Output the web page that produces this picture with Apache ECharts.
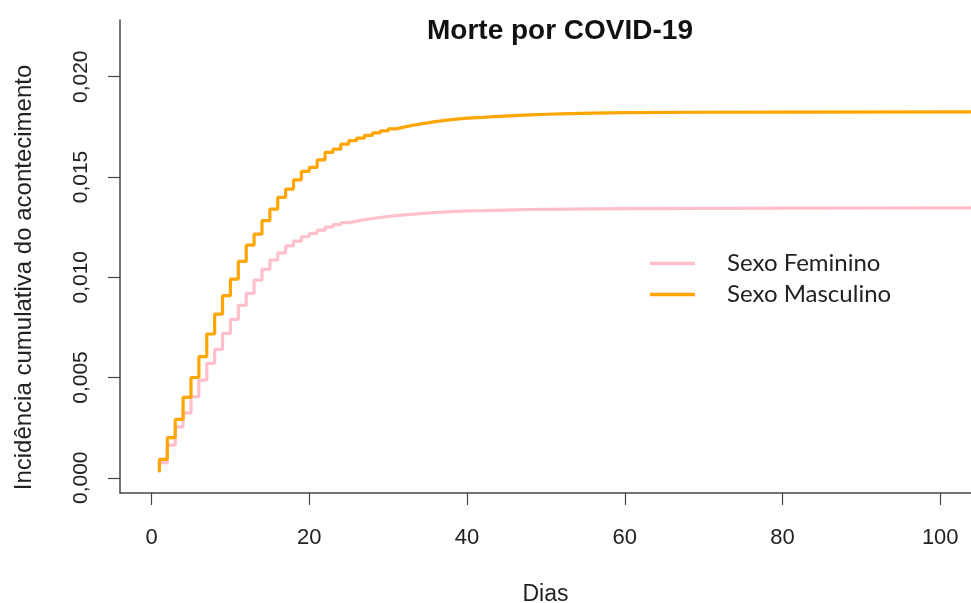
<!DOCTYPE html>
<html>
<head>
<meta charset="utf-8">
<title>Morte por COVID-19</title>
<script src="https://cdn.jsdelivr.net/npm/echarts@6/dist/echarts.min.js"></script>
<style>
  html, body { margin: 0; padding: 0; background: #fff; }
  #main { width: 971px; height: 603px; }
</style>
</head>
<body>
<div id="main"></div>
<script>
// cumulative incidence (step curves)
var days = [1, 1, 2, 3, 4, 5, 6, 7, 8, 9, 10, 11, 12, 13, 14, 15, 16, 17, 18, 19, 20,
    21, 22, 23, 24, 25, 26, 27, 28, 29, 30, 31, 32, 33, 34, 35, 36, 37, 38, 39, 40,
    42, 44, 46, 48, 50, 53, 56, 60, 70, 80, 104];

var feminino = [0.00025, 0.00075, 0.00163, 0.00254, 0.00324, 0.00404, 0.00487, 0.00570, 0.00640, 0.00720, 0.00790,
    0.00860, 0.00920, 0.00986, 0.01039, 0.01086, 0.01122, 0.01156, 0.01180, 0.01202, 0.01219,
    0.01235, 0.01250, 0.01262, 0.01272, 0.01280, 0.01287, 0.01293, 0.01298, 0.01303, 0.01307,
    0.01311, 0.01314, 0.01317, 0.01320, 0.01323, 0.01325, 0.01327, 0.01329, 0.01331, 0.01332,
    0.01334, 0.01336, 0.01338, 0.01339, 0.01340, 0.01341, 0.01342, 0.01344, 0.01345, 0.01346, 0.01347];

var masculino = [0.00030, 0.00092, 0.00200, 0.00291, 0.00401, 0.00500, 0.00604, 0.00717, 0.00816, 0.00908, 0.00991,
    0.01079, 0.01160, 0.01215, 0.01282, 0.01340, 0.01398, 0.01440, 0.01486, 0.01528, 0.01548,
    0.01585, 0.01623, 0.01639, 0.01664, 0.01681, 0.01694, 0.01708, 0.01720, 0.01730, 0.01740,
    0.01749, 0.01757, 0.01764, 0.01770, 0.01776, 0.01781, 0.01786, 0.01790, 0.01794, 0.01797,
    0.01802, 0.01806, 0.01810, 0.01813, 0.01816, 0.01819, 0.01821, 0.01823, 0.01824, 0.01825, 0.01825];

var xTicks = [0, 20, 40, 60, 80, 100];
var yTicks = [0, 0.005, 0.010, 0.015, 0.020];

function pairs(xs, ys) {
    return xs.map(function (x, i) { return [x, ys[i]]; });
}

var dom = document.getElementById("main");
var myChart = echarts.init(dom);
var option;

var font = 'Liberation Sans, Arial, sans-serif';

option = {
    animation: false,
    title: {
        text: 'Morte por COVID-19',
        left: 555,
        top: 12,
        textAlign: 'center',
        textStyle: { fontFamily: font, fontSize: 28, fontWeight: 'bold', color: '#111' }
    },
    grid: { left: 120, right: 0, top: 20, bottom: 110, outerBoundsMode: 'none' },
    legend: {
        orient: 'vertical',
        left: 645,
        top: 243,
        icon: 'rect',
        itemWidth: 45,
        itemHeight: 3.5,
        itemGap: 0,
        data: ['Sexo Feminino', 'Sexo Masculino'],
        textStyle: {
            fontFamily: 'Lato, Open Sans, sans-serif',
            fontSize: 24,
            color: '#222',
            lineHeight: 31,
            padding: [0, 0, 0, 27]
        }
    },
    xAxis: {
        type: 'value',
        min: -4,
        max: 103.9,
        name: 'Dias',
        nameLocation: 'middle',
        nameGap: 90,
        nameTextStyle: { fontFamily: font, fontSize: 23, color: '#222' },
        splitLine: { show: false },
        axisLine: { onZero: false, lineStyle: { color: '#444', width: 1.5 } },
        axisTick: { customValues: xTicks, length: 12, lineStyle: { color: '#444', width: 1.2 } },
        axisLabel: {
            customValues: xTicks,
            margin: 34,
            fontFamily: font,
            fontSize: 22,
            color: '#222'
        }
    },
    yAxis: {
        type: 'value',
        min: -0.00076,
        max: 0.02283,
        name: 'Incidência cumulativa do acontecimento',
        nameLocation: 'middle',
        nameGap: 84,
        nameTextStyle: { fontFamily: font, fontSize: 24, color: '#222', padding: [0, 42, 0, 0] },
        splitLine: { show: false },
        axisLine: { show: true, onZero: false, lineStyle: { color: '#444', width: 1.5 } },
        axisTick: { show: true, customValues: yTicks, length: 12, lineStyle: { color: '#444', width: 1.2 } },
        axisLabel: {
            customValues: yTicks,
            rotate: 90,
            margin: 28,
            fontFamily: font,
            fontSize: 21,
            color: '#222',
            formatter: function (v) { return v.toFixed(3).replace('.', ','); }
        }
    },
    series: [
        {
            name: 'Sexo Feminino',
            type: 'line',
            step: 'end',
            symbol: 'none',
            color: '#FFC0CB',
            lineStyle: { color: '#FFC0CB', width: 3.2 },
            data: pairs(days, feminino)
        },
        {
            name: 'Sexo Masculino',
            type: 'line',
            step: 'end',
            symbol: 'none',
            color: '#FFA500',
            lineStyle: { color: '#FFA500', width: 3.2 },
            data: pairs(days, masculino)
        }
    ]
};

if (option && typeof option === 'object') {
    myChart.setOption(option);
}
</script>
</body>
</html>
